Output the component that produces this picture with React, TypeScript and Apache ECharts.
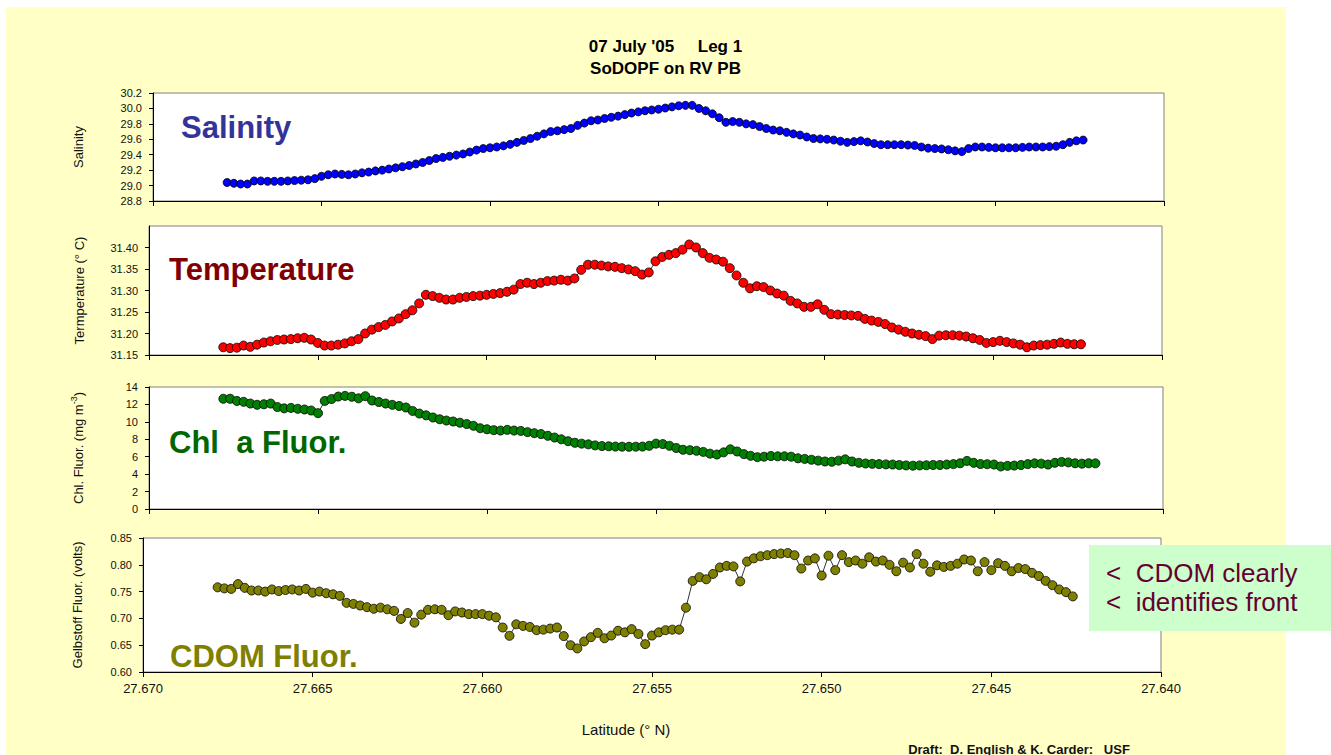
import React, { useEffect, useRef } from "react";
import * as echarts from "echarts";

// Ship track latitude (° N) shared by all four records
const latitude = [
  27.6678, 27.6676, 27.6674, 27.6672, 27.667, 27.6668, 27.6666, 27.6664, 27.6662, 27.666,
  27.6658, 27.6656, 27.6654, 27.6652, 27.665, 27.6648, 27.6646, 27.6644, 27.6642, 27.664,
  27.6638, 27.6636, 27.6634, 27.6632, 27.663, 27.6628, 27.6626, 27.6624, 27.6622, 27.662,
  27.6618, 27.6616, 27.6614, 27.6612, 27.661, 27.6608, 27.6606, 27.6604, 27.6602, 27.66,
  27.6598, 27.6596, 27.6594, 27.6592, 27.659, 27.6588, 27.6586, 27.6584, 27.6582, 27.658,
  27.6578, 27.6576, 27.6574, 27.6572, 27.657, 27.6568, 27.6566, 27.6564, 27.6562, 27.656,
  27.6558, 27.6556, 27.6554, 27.6552, 27.655, 27.6548, 27.6546, 27.6544, 27.6542, 27.654,
  27.6538, 27.6536, 27.6534, 27.6532, 27.653, 27.6528, 27.6526, 27.6524, 27.6522, 27.652,
  27.6518, 27.6516, 27.6514, 27.6512, 27.651, 27.6508, 27.6506, 27.6504, 27.6502, 27.65,
  27.6498, 27.6496, 27.6494, 27.6492, 27.649, 27.6488, 27.6486, 27.6484, 27.6482, 27.648,
  27.6478, 27.6476, 27.6474, 27.6472, 27.647, 27.6468, 27.6466, 27.6464, 27.6462, 27.646,
  27.6458, 27.6456, 27.6454, 27.6452, 27.645, 27.6448, 27.6446, 27.6444, 27.6442, 27.644,
  27.6438, 27.6436, 27.6434, 27.6432, 27.643, 27.6428, 27.6426, 27.6424, 27.6422, 27.642,
];

const salinity = [
  29.04, 29.03, 29.02, 29.02, 29.06, 29.06, 29.055, 29.055, 29.055, 29.06,
  29.065, 29.07, 29.075, 29.09, 29.12, 29.14, 29.15, 29.145, 29.14, 29.15,
  29.165, 29.175, 29.19, 29.2, 29.215, 29.23, 29.245, 29.26, 29.28, 29.3,
  29.325, 29.35, 29.365, 29.38, 29.395, 29.41, 29.435, 29.46, 29.48, 29.49,
  29.5, 29.515, 29.535, 29.56, 29.585, 29.61, 29.64, 29.67, 29.7, 29.71,
  29.725, 29.74, 29.78, 29.81, 29.84, 29.85, 29.87, 29.885, 29.9, 29.92,
  29.94, 29.955, 29.97, 29.98, 29.99, 30.005, 30.02, 30.035, 30.04, 30.04,
  30.0, 29.97, 29.93, 29.88, 29.82, 29.83, 29.82, 29.8, 29.79, 29.765,
  29.74, 29.72, 29.71, 29.69, 29.67, 29.655, 29.63, 29.61, 29.605, 29.6,
  29.59, 29.575, 29.56, 29.57, 29.58, 29.565, 29.545, 29.53, 29.53, 29.53,
  29.53, 29.525, 29.52, 29.5, 29.485, 29.48, 29.475, 29.465, 29.45, 29.44,
  29.48, 29.5, 29.5, 29.495, 29.49, 29.49, 29.49, 29.49, 29.495, 29.5,
  29.5, 29.5, 29.505, 29.51, 29.53, 29.56, 29.58, 29.59,
];

const temperature = [
  31.168, 31.166, 31.167, 31.172, 31.169, 31.174, 31.179, 31.182, 31.185, 31.186,
  31.187, 31.189, 31.19, 31.186, 31.178, 31.172, 31.172, 31.174, 31.177, 31.182,
  31.187, 31.2, 31.209, 31.215, 31.22, 31.228, 31.235, 31.245, 31.254, 31.27,
  31.29, 31.287, 31.283, 31.279, 31.279, 31.283, 31.285, 31.287, 31.288, 31.29,
  31.292, 31.294, 31.297, 31.302, 31.315, 31.318, 31.315, 31.318, 31.322, 31.323,
  31.325, 31.323, 31.328, 31.348, 31.36, 31.36, 31.358, 31.356, 31.355, 31.352,
  31.349, 31.345, 31.337, 31.342, 31.368, 31.378, 31.383, 31.387, 31.395, 31.407,
  31.4, 31.387, 31.376, 31.372, 31.367, 31.352, 31.335, 31.318, 31.305, 31.31,
  31.308, 31.3, 31.293, 31.288, 31.276, 31.27, 31.262, 31.262, 31.268, 31.255,
  31.245, 31.244, 31.243, 31.242, 31.241, 31.234, 31.23, 31.227, 31.222, 31.214,
  31.209, 31.204, 31.2, 31.197, 31.194, 31.187, 31.195, 31.196, 31.196, 31.195,
  31.193, 31.189, 31.185, 31.178, 31.18, 31.183, 31.18, 31.177, 31.174, 31.168,
  31.172, 31.173, 31.174, 31.176, 31.179, 31.176, 31.175, 31.175,
];

const chlorophyll = [
  12.65, 12.65, 12.4, 12.3, 12.1, 11.96, 12.02, 12.1, 11.7, 11.55,
  11.6, 11.5, 11.42, 11.3, 11.0, 12.4, 12.62, 12.9, 12.98, 12.88,
  12.7, 12.95, 12.45, 12.28, 12.1, 11.95, 11.82, 11.65, 11.25, 10.95,
  10.75, 10.5, 10.3, 10.15, 10.04, 9.9, 9.75, 9.55, 9.27, 9.15,
  9.05, 9.0, 9.08, 9.0, 8.96, 8.82, 8.7, 8.6, 8.4, 8.2,
  8.0, 7.78, 7.6, 7.5, 7.42, 7.3, 7.22, 7.2, 7.16, 7.15,
  7.14, 7.15, 7.16, 7.25, 7.5, 7.45, 7.25, 7.0, 6.8, 6.75,
  6.68, 6.55, 6.35, 6.25, 6.5, 6.85, 6.6, 6.3, 6.1, 5.95,
  6.0, 6.08, 6.05, 6.05, 6.0, 5.82, 5.75, 5.65, 5.55, 5.45,
  5.42, 5.55, 5.7, 5.45, 5.3, 5.22, 5.18, 5.15, 5.12, 5.1,
  5.05, 5.0, 4.97, 5.0, 5.02, 5.05, 5.05, 5.1, 5.15, 5.25,
  5.52, 5.3, 5.16, 5.14, 5.1, 4.88, 4.95, 4.98, 5.05, 5.15,
  5.24, 5.2, 5.1, 5.3, 5.4, 5.35, 5.25, 5.2, 5.25, 5.24,
];

const cdom = [
  0.758, 0.756, 0.755, 0.764, 0.757, 0.752, 0.752, 0.75, 0.754, 0.751,
  0.753, 0.754, 0.752, 0.755, 0.748, 0.75, 0.747, 0.745, 0.742, 0.729,
  0.727, 0.724, 0.721, 0.718, 0.72, 0.717, 0.714, 0.699, 0.71, 0.692,
  0.707, 0.716, 0.717, 0.716, 0.706, 0.713, 0.711, 0.708, 0.708, 0.708,
  0.705, 0.702, 0.683, 0.6675, 0.689, 0.686, 0.684, 0.678, 0.679, 0.681,
  0.683, 0.667, 0.65, 0.644, 0.657, 0.665, 0.673, 0.663, 0.668, 0.677,
  0.674, 0.68, 0.671, 0.652, 0.668, 0.674, 0.678, 0.679, 0.679, 0.72,
  0.77, 0.777, 0.773, 0.783, 0.795, 0.798, 0.797, 0.769, 0.806, 0.812,
  0.816, 0.818, 0.82, 0.821, 0.822, 0.818, 0.793, 0.808, 0.812, 0.78,
  0.817, 0.79, 0.818, 0.805, 0.808, 0.802, 0.814, 0.806, 0.808, 0.8,
  0.788, 0.804, 0.795, 0.82, 0.802, 0.787, 0.799, 0.796, 0.798, 0.802,
  0.81, 0.808, 0.788, 0.805, 0.79, 0.803, 0.798, 0.788, 0.794, 0.792,
  0.785, 0.779, 0.77, 0.762, 0.754, 0.749, 0.741,
];

// Axis settings (values only)
const latRange = { min: 27.64, max: 27.67, interval: 0.005 };
const salinityRange = { min: 28.8, max: 30.2, interval: 0.2, decimals: 1 };
const temperatureRange = { min: 31.15, max: 31.45, interval: 0.05, decimals: 2 };
const chlRange = { min: 0, max: 14, interval: 2, decimals: 0 };
const cdomRange = { min: 0.6, max: 0.85, interval: 0.05, decimals: 2 };

const titleLines = ["07 July '05     Leg 1", "SoDOPF on RV PB"];
const panelLabels = ["Salinity", "Temperature", "Chl  a Fluor.", "CDOM Fluor."];
const axisNames = [
  "Salinity",
  "Termperature (° C)",
  "{a|Chl. Fluor. (mg m}{s|-3}{a|)}",
  "Gelbstoff Fluor. (volts)",
];
const noteLines = ["<  CDOM clearly", "<  identifies front"];
const xAxisTitle = "Latitude (° N)";
const credit = "Draft:  D. English & K. Carder:   USF";

const FONT = "'Liberation Sans', Arial, Helvetica, sans-serif";

const panels = [
  { grid: { left: 153, top: 93, width: 1011, height: 108 }, range: salinityRange, values: salinity, color: "#0000FF", size: 8, nameGap: 68, label: { x: 181, y: 127, size: 31, color: "#333399" } },
  { grid: { left: 149, top: 226, width: 1013, height: 129 }, range: temperatureRange, values: temperature, color: "#FF0000", size: 9, nameGap: 63, label: { x: 169, y: 269, size: 31, color: "#800000" } },
  { grid: { left: 149, top: 387, width: 1014, height: 122 }, range: chlRange, values: chlorophyll, color: "#008000", size: 9, nameGap: 61, label: { x: 169, y: 442, size: 31, color: "#006600" } },
  { grid: { left: 143, top: 538, width: 1018, height: 134 }, range: cdomRange, values: cdom, color: "#808000", size: 9, nameGap: 59, label: { x: 170, y: 656, size: 31, color: "#808000" } },
];

export default function App() {
  const ref = useRef<HTMLDivElement>(null);

  useEffect(() => {
    if (!ref.current) return;
    const chart = echarts.init(ref.current, undefined, { renderer: "svg" });

    const grids = panels.map((p) => ({
      ...p.grid,
      show: true,
      backgroundColor: "#FFFFFF",
      borderColor: "#808080",
      borderWidth: 1,
      containLabel: false,
    }));

    const xAxes = panels.map((_, i) => ({
      type: "value",
      gridIndex: i,
      min: latRange.min,
      max: latRange.max,
      interval: latRange.interval,
      inverse: true,
      axisLine: { show: true, onZero: false, lineStyle: { color: "#000", width: 1 } },
      axisTick: { show: true, inside: false, length: 5, lineStyle: { color: "#000" } },
      axisLabel: {
        show: i === panels.length - 1,
        formatter: (v: number) => v.toFixed(3),
        fontSize: 13,
        fontFamily: FONT,
        color: "#111",
        margin: 10,
      },
      splitLine: { show: false },
    }));

    const yAxes = panels.map((p, i) => ({
      type: "value",
      gridIndex: i,
      min: p.range.min,
      max: p.range.max,
      interval: p.range.interval,
      axisLine: { show: true, onZero: false, lineStyle: { color: "#000", width: 1 } },
      axisTick: { show: true, inside: false, length: 4, lineStyle: { color: "#000" } },
      axisLabel: {
        formatter: (v: number) => v.toFixed(p.range.decimals),
        fontSize: 11,
        fontFamily: FONT,
        color: "#111",
        margin: 11,
        showMaxLabel: i !== 1,
      },
      splitLine: { show: false },
      name: axisNames[i],
      nameLocation: "middle",
      nameGap: p.nameGap,
      nameTextStyle: {
        fontSize: 13,
        fontFamily: FONT,
        color: "#111",
        rich: {
          a: { fontSize: 13, fontFamily: FONT, color: "#111", lineHeight: 19 },
          s: { fontSize: 9, fontFamily: FONT, color: "#111", lineHeight: 9, verticalAlign: "top" },
        },
      },
    }));

    const series = panels.map((p, i) => ({
      type: "line",
      xAxisIndex: i,
      yAxisIndex: i,
      data: p.values.map((v, k) => [latitude[k], v]),
      symbol: "circle",
      symbolSize: p.size,
      showSymbol: true,
      showAllSymbol: true,
      silent: true,
      clip: false,
      itemStyle: { color: p.color, borderColor: "#000", borderWidth: 0.8 },
      lineStyle: { color: "#000", width: 0.8 },
      emphasis: { disabled: true },
    }));

    const labelEls = panels.map((p, i) => ({
      type: "text",
      x: p.label.x,
      y: p.label.y,
      z: 10,
      style: {
        text: panelLabels[i],
        fill: p.label.color,
        fontSize: p.label.size,
        fontWeight: "bold",
        fontFamily: FONT,
        align: "left",
        verticalAlign: "middle",
      },
    }));

    chart.setOption({
      animation: false,
      backgroundColor: "transparent",
      title: {
        text: titleLines.join("\n"),
        left: "center",
        top: 30,
        textStyle: { fontSize: 17, fontWeight: "bold", lineHeight: 22, fontFamily: FONT, color: "#000" },
      },
      grid: grids,
      xAxis: xAxes,
      yAxis: yAxes,
      series,
      graphic: {
        elements: [
          ...labelEls,
          {
            type: "rect",
            z: 20,
            shape: { x: 1089, y: 545, width: 242, height: 86 },
            style: { fill: "#CCFFCC" },
          },
          ...noteLines.map((t, k) => ({
            type: "text",
            z: 21,
            x: 1106,
            y: 573 + k * 29,
            style: { text: t, fill: "#660033", fontSize: 26, fontFamily: FONT, align: "left", verticalAlign: "middle" },
          })),
          {
            type: "text",
            x: 626,
            y: 729,
            style: { text: xAxisTitle, fill: "#111", fontSize: 15, fontFamily: FONT, align: "center", verticalAlign: "middle" },
          },
          {
            type: "text",
            x: 1019,
            y: 749,
            style: { text: credit, fill: "#111", fontSize: 13, fontWeight: "bold", fontFamily: FONT, align: "center", verticalAlign: "middle" },
          },
        ],
      },
    });

    return () => chart.dispose();
  }, []);

  return (
    <div style={{ position: "fixed", left: 0, top: 0, width: 1331, height: 755, background: "#FFFFFF", overflow: "hidden" }}>
      <div style={{ position: "absolute", left: 6, top: 7, width: 1280, height: 748, background: "#FFFFC6" }} />
      <div ref={ref} style={{ position: "absolute", left: 0, top: 0, width: 1331, height: 755 }} />
    </div>
  );
}
